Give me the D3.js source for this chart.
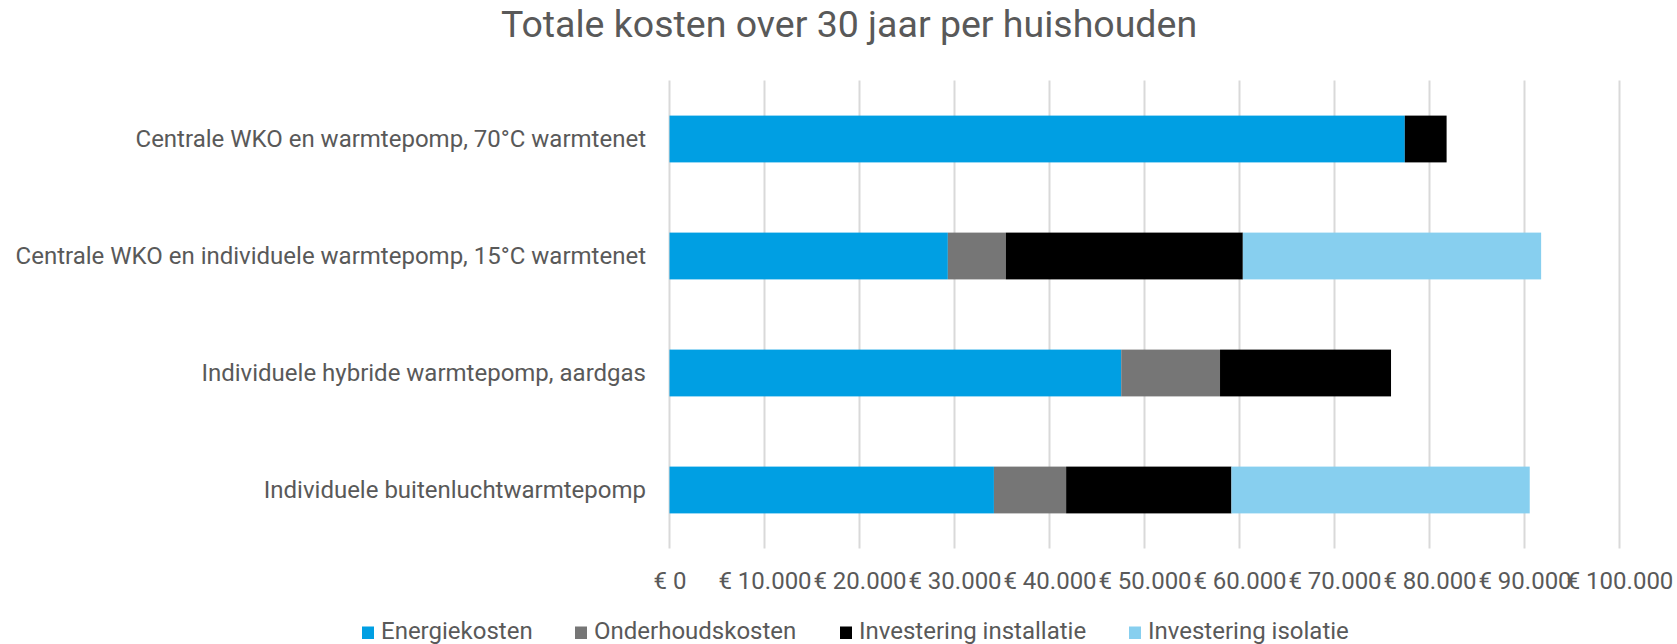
<!DOCTYPE html>
<html>
<head>
<meta charset="utf-8">
<script src="https://cdn.jsdelivr.net/npm/d3@7"></script>
<style>
  html, body { margin: 0; padding: 0; background: #ffffff; }
  svg text { font-family: Roboto, "Noto Sans", sans-serif; fill: #595959; }
</style>
</head>
<body>
<svg id="chart" width="1677" height="644"></svg>
<script>
// Scenarios (top to bottom)
const categories = [
  "Centrale WKO en warmtepomp, 70°C warmtenet",
  "Centrale WKO en individuele warmtepomp, 15°C warmtenet",
  "Individuele hybride warmtepomp, aardgas",
  "Individuele buitenluchtwarmtepomp"
];

// Cost components per scenario, in euro over 30 years
const seriesNames = ["Energiekosten", "Onderhoudskosten", "Investering installatie", "Investering isolatie"];
const energiekosten        = [77400, 29300, 47550, 34150];
const onderhoudskosten     = [0,      6100, 10400,  7600];
const investeringInstall   = [4400,  24950, 18000, 17400];
const investeringIsolatie  = [0,     31400,     0, 31400];

const tickValues = [0, 10000, 20000, 30000, 40000, 50000, 60000, 70000, 80000, 90000, 100000];
const colors = ["#009fe3", "#767676", "#000000", "#87cfef"];

const title = "Totale kosten over 30 jaar per huishouden";

const rows = categories.map((c, i) => ({
  category: c,
  "Energiekosten": energiekosten[i],
  "Onderhoudskosten": onderhoudskosten[i],
  "Investering installatie": investeringInstall[i],
  "Investering isolatie": investeringIsolatie[i]
}));

const svg = d3.select("#chart");
const plot = { left: 669.5, right: 1619.5, top: 80.5, bottom: 548.5 };

const x = d3.scaleLinear().domain([0, 100000]).range([plot.left, plot.right]);
const y = d3.scaleBand().domain(categories).range([plot.top, plot.bottom]).paddingInner(0.6).paddingOuter(0.3);

// Title
svg.append("text")
  .attr("x", 849)
  .attr("y", 37)
  .attr("text-anchor", "middle")
  .style("font-size", "37.5px")
  .text(title);

// Vertical gridlines
svg.append("g")
  .selectAll("line")
  .data(tickValues)
  .join("line")
  .attr("x1", d => x(d)).attr("x2", d => x(d))
  .attr("y1", plot.top).attr("y2", plot.bottom)
  .attr("stroke", "#d9d9d9")
  .attr("stroke-width", 2);

// Stacked bars
const stacked = d3.stack().keys(seriesNames)(rows);
svg.append("g")
  .selectAll("g")
  .data(stacked)
  .join("g")
  .attr("fill", (d, i) => colors[i])
  .selectAll("rect")
  .data(d => d.filter(s => s[1] - s[0] > 0))
  .join("rect")
  .attr("x", d => x(d[0]))
  .attr("width", d => x(d[1]) - x(d[0]))
  .attr("y", d => y(d.data.category))
  .attr("height", y.bandwidth());

// Category labels
svg.append("g")
  .selectAll("text")
  .data(categories)
  .join("text")
  .attr("x", 646)
  .attr("y", d => y(d) + y.bandwidth() / 2)
  .attr("dy", "0.35em")
  .attr("text-anchor", "end")
  .style("font-size", "24px")
  .text(d => d);

// Value axis labels
const fmt = d => "€ " + d3.format(",")(d).replace(/,/g, ".");
const xAxis = d3.axisBottom(x).tickValues(tickValues).tickFormat(fmt).tickSize(0).tickPadding(0);
const axisG = svg.append("g")
  .attr("transform", `translate(0, ${plot.bottom + 23})`)
  .call(xAxis);
axisG.select(".domain").remove();
axisG.selectAll("text")
  .style("font-size", "24px")
  .style("font-family", "Roboto, sans-serif")
  .attr("fill", "#595959");

// Legend
const legendX = [362, 575, 840, 1129];
const legend = svg.append("g")
  .selectAll("g")
  .data(seriesNames)
  .join("g")
  .attr("transform", (d, i) => `translate(${legendX[i]}, 631)`);
legend.append("rect")
  .attr("x", 0).attr("y", -4.5)
  .attr("width", 12).attr("height", 12.5)
  .attr("fill", (d, i) => colors[i]);
legend.append("text")
  .attr("x", 19)
  .attr("y", 0)
  .attr("dy", "0.35em")
  .style("font-size", "24px")
  .text(d => d);
</script>
</body>
</html>
